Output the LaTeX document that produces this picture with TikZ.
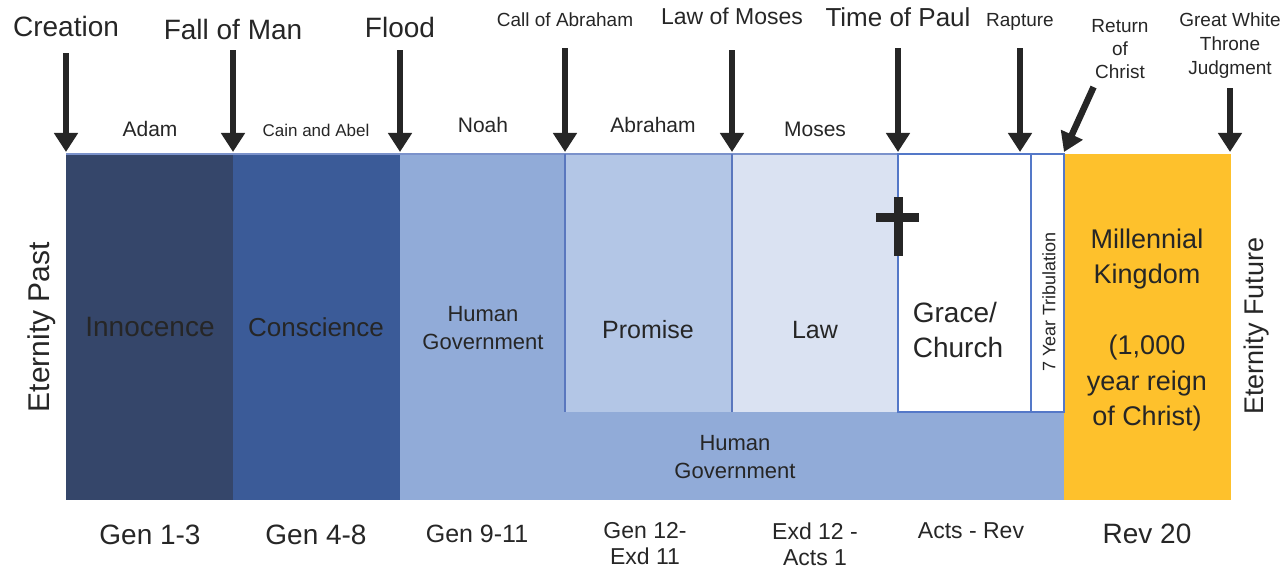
\documentclass[tikz,border=0pt]{standalone}
\usepackage{fontspec}
\setmainfont{Liberation Sans}
\usetikzlibrary{arrows.meta}
\definecolor{innblue}{RGB}{53,70,106}
\definecolor{conblue}{RGB}{59,91,152}
\definecolor{govblue}{RGB}{145,171,216}
\definecolor{problue}{RGB}{179,198,230}
\definecolor{lawblue}{RGB}{218,226,242}
\definecolor{edgeblue}{RGB}{90,119,190}
\definecolor{boxblue}{RGB}{84,120,200}
\definecolor{kingyellow}{RGB}{254,193,44}
\definecolor{txt}{RGB}{38,38,38}
\newcommand{\fsz}[2]{\fontsize{#1pt}{#2pt}\selectfont}

\begin{document}
\begin{tikzpicture}[x=1pt,y=-1pt,
  evt/.style={line width=6.5pt,draw=txt,-{Triangle[width=23pt,length=19pt]}},
  lbl/.style={inner sep=0pt,text=txt,align=center}]
\useasboundingbox (0,0) rectangle (1288,569);

% bands
\fill[govblue] (400,154) rectangle (1064,500);
\foreach \xa/\xb/\col in {66/233/innblue,233/400/conblue}
  \fill[\col] (\xa,154) rectangle (\xb,500);
\foreach \xa/\xb/\col in {565/732/problue,732/898/lawblue,898/1064/white}
  \fill[\col] (\xa,154) rectangle (\xb,412);
\fill[kingyellow] (1064,154) rectangle (1231,500);
\draw[edgeblue!80,line width=1.2pt] (66,154) -- (898,154);
\draw[edgeblue,line width=1.5pt] (565,154) -- (565,412) (732,154) -- (732,412);
\draw[boxblue,line width=1.2pt] (898,154) rectangle (1064,412) (1031,154) -- (1031,412);

% cross
\fill[txt] (893.5,197) rectangle (902.5,256);
\fill[txt] (876,213.5) rectangle (919,222.5);

\foreach \i/\x in {0/66,1/233,2/400,3/565,4/732,5/898,6/1020,7/1064,8/1230}
  \coordinate (b\i) at (\x,152);

% events
\node[lbl,anchor=base,font=\fsz{28}{34}] (creation) at (66,37) {Creation};
\node[lbl,anchor=base,font=\fsz{28}{34}] (fall) at (233,40) {Fall of Man};
\node[lbl,anchor=base,font=\fsz{28}{34}] (flood) at (400,38) {Flood};
\node[lbl,anchor=base,font=\fsz{19}{23}] (callabr) at (565,27) {Call of Abraham};
\node[lbl,anchor=base,font=\fsz{23}{28}] (lawmos) at (732,25) {Law of Moses};
\node[lbl,anchor=base,font=\fsz{26}{31}] (paul) at (898,27) {Time of Paul};
\node[lbl,anchor=base,font=\fsz{19}{23}] (rapture) at (1020,27) {Rapture};
\node[lbl,font=\fsz{19}{23}] (ret) at (1120,49) {Return\\of\\Christ};
\node[lbl,font=\fsz{19}{24}] (gwt) at (1230,46) {Great White\\Throne\\Judgment};

\draw[evt,shorten <=16pt] (creation) -- (b0);
\draw[evt,shorten <=10pt] (fall) -- (b1);
\draw[evt,shorten <=12pt] (flood) -- (b2);
\draw[evt,shorten <=21pt] (callabr) -- (b3);
\draw[evt,shorten <=25pt] (lawmos) -- (b4);
\draw[evt,shorten <=21pt] (paul) -- (b5);
\draw[evt,shorten <=17pt] (rapture) -- (b6);
\draw[evt,shorten <=9pt] ([xshift=6pt]ret.south west) -- (b7);
\draw[evt,shorten <=9pt] (gwt) -- (b8);

% people
\node[lbl,anchor=base,font=\fsz{21}{25}] (adam) at (150,137) {Adam};
\node[lbl,anchor=base,font=\fsz{17}{21}] (cain) at (316,137) {Cain and Abel};
\node[lbl,anchor=base,font=\fsz{21}{25}] (noah) at (483,133) {Noah};
\node[lbl,anchor=base,font=\fsz{21}{25}] (abraham) at (653,133) {Abraham};
\node[lbl,anchor=base,font=\fsz{21}{25}] (moses) at (815,137) {Moses};

% dispensations
\node[lbl,anchor=base,font=\fsz{28}{34}] (innocence) at (150,337) {Innocence};
\node[lbl,anchor=base,font=\fsz{26}{31}] (conscience) at (316,337) {Conscience};
\node[lbl,font=\fsz{22}{28}] (humgov) at (483,328) {Human\\Government};
\node[lbl,anchor=base,font=\fsz{25}{30}] (promise) at (648,338) {Promise};
\node[lbl,anchor=base,font=\fsz{25}{30}] (law) at (815,338) {Law};
\node[lbl,align=left,font=\fsz{28}{35}] (grace) at (958,330) {Grace/\\Church};
\node[lbl,rotate=90,font=\fsz{18}{20}] (trib) at (1049,302) {7 Year Tribulation};
\node[lbl,font=\fsz{27}{35.5}] (kingdom) at (1147,330)
  {Millennial\\Kingdom\\[35.5pt](1,000\\year reign\\of Christ)};
\node[lbl,font=\fsz{22}{28}] (humgovlow) at (735,457) {Human\\Government};
\node[lbl,rotate=90,font=\fsz{30}{36}] (etpast) at (42,327) {Eternity Past};
\node[lbl,rotate=90,font=\fsz{27}{32}] (etfut) at (1257,326) {Eternity Future};

% scripture
\node[lbl,anchor=base,font=\fsz{28}{32}] (gen1) at (150,544) {Gen 1-3};
\node[lbl,anchor=base,font=\fsz{28}{32}] (gen4) at (316,544) {Gen 4-8};
\node[lbl,anchor=base,font=\fsz{25}{30}] (gen9) at (477,542) {Gen 9-11};
\node[lbl,font=\fsz{23}{26}] (gen12) at (645,544) {Gen 12-\\Exd 11};
\node[lbl,font=\fsz{23}{26}] (exd12) at (815,544) {Exd 12 -\\Acts 1};
\node[lbl,anchor=base,font=\fsz{23}{28}] (acts) at (971,538) {Acts - Rev};
\node[lbl,anchor=base,font=\fsz{28}{32}] (rev20) at (1147,543) {Rev 20};
\end{tikzpicture}
\end{document}
